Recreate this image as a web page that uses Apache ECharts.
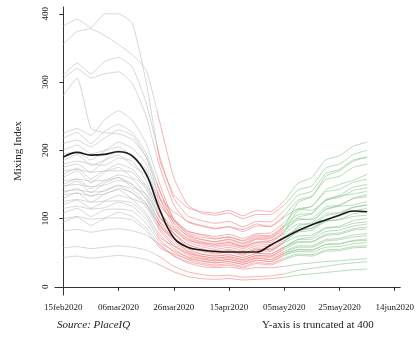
<!DOCTYPE html>
<html>
<head>
<meta charset="utf-8">
<script src="https://cdn.jsdelivr.net/npm/echarts@6/dist/echarts.min.js"></script>
<style>
  html, body { margin: 0; padding: 0; background: #fff; }
  #chart { width: 417px; height: 337px; }
</style>
</head>
<body>
<div id="chart"></div>
<script>
// days after 15feb2020, one reading every 5 days
var days = [0,5,10,15,20,25,30,35,40,45,50,55,60,65,70,75,80,85,90,95,100,105,110];
var tickDays = [0,20,40,60,80,100,120];
var tickLabels = ['15feb2020','06mar2020','26mar2020','15apr2020','05may2020','25may2020','14jun2020'];
var yTicks = [0,100,200,300,400];

// average mixing index (black line)
var meanIndex = [190,197,193,194,198,192,165,112,72,58,54,52,51,51,51,61,72,82,91,98,105,111,110];

// cities with the highest mixing before the lockdown
var topCities = [
    [382,392,380,400,400,386,300,185,135,116,110,108,112,104,112,110,126,152,160,186,192,206,212],
    [356,374,378,368,355,340,318,240,160,120,108,105,108,100,106,106,120,142,148,174,180,194,200],
    [310,328,312,330,336,322,270,190,130,104,97,93,96,88,96,95,112,134,140,166,172,186,190],
    [305,320,306,312,315,298,250,175,120,95,89,85,88,81,89,89,104,127,133,157,162,175,180],
    [280,306,232,226,224,216,190,140,100,81,77,74,77,71,78,79,94,114,118,139,143,153,158],
    [225,232,222,245,258,244,210,150,98,79,73,70,73,67,74,75,90,106,108,127,131,141,145],
    [218,226,210,228,238,226,196,140,92,75,69,66,69,63,70,71,84,98,100,117,120,129,132],
    [210,215,205,218,230,222,190,130,88,71,65,62,65,59,66,67,78,92,92,107,109,117,120]
];

// the bulk of the cities
var midCities = [
    [200,208,195,200,212,203,180,130,110,96,90,86,88,84,92,88,102,114,112,126,133,136,140],
    [195,197,186,199,205,190,168,118,98,82,76,71,73,68,76,74,88,100,98,113,118,120,125],
    [185,194,178,186,200,190,172,122,95,74,66,63,66,60,70,68,82,112,118,142,150,156,165],
    [180,184,180,178,189,184,155,108,86,70,62,58,61,56,63,62,74,84,86,96,98,103,105],
    [175,180,168,185,193,178,163,128,98,77,70,66,70,64,72,72,88,124,132,162,170,184,190],
    [170,172,168,170,180,172,148,102,78,62,55,50,53,48,55,54,65,74,76,86,87,93,95],
    [165,174,158,170,170,168,143,100,84,66,59,55,58,53,60,59,72,86,90,104,108,116,120],
    [160,170,152,168,175,160,148,112,78,58,52,48,51,46,53,52,66,89,94,114,119,130,135],
    [155,158,155,156,164,158,134,94,71,56,48,45,47,43,49,48,58,66,66,75,77,83,85],
    [150,158,144,155,160,150,130,95,79,62,56,52,55,50,57,56,68,80,83,96,99,107,110],
    [148,150,147,149,156,150,128,90,67,52,45,42,44,40,46,45,57,70,73,86,89,97,100],
    [145,155,138,152,160,146,136,102,83,68,64,60,63,58,65,65,80,102,107,128,134,146,150],
    [140,142,139,140,149,143,121,85,63,50,43,40,42,38,44,43,52,60,60,69,71,76,78],
    [138,144,132,142,148,137,123,88,70,53,48,45,47,43,49,48,59,69,70,81,83,89,92],
    [135,137,134,136,144,138,117,82,60,47,41,38,40,36,42,40,49,55,54,62,63,68,70],
    [130,138,124,136,142,129,120,90,72,58,53,50,53,48,55,54,66,82,86,99,104,111,115],
    [125,128,124,126,134,128,108,76,56,43,38,35,37,33,39,37,46,52,51,58,59,63,65],
    [120,127,115,125,126,123,104,72,60,49,45,42,44,40,46,45,55,65,66,77,79,85,88],
    [115,118,114,116,124,118,99,69,51,40,35,32,34,30,36,34,42,48,47,54,55,59,60],
    [108,115,103,113,114,111,93,65,53,44,41,38,40,36,42,40,50,58,58,67,69,73,75],
    [100,103,99,101,109,103,86,60,46,37,33,30,32,28,34,32,40,46,45,52,53,57,58],
    [95,102,90,100,101,98,82,57,48,41,38,35,37,33,39,37,47,54,54,62,63,67,68]
];

// cities with very low mixing throughout
var lowCities = [
    [82,84,80,83,85,82,76,62,45,35,30,28,29,26,28,28,30,33,35,37,38,40,41],
    [57,59,56,58,60,58,54,44,30,22,18,16,17,14,15,16,19,24,27,30,33,35,37],
    [43,45,42,44,46,44,40,32,22,15,12,11,12,10,11,12,14,17,19,21,23,25,26]
];

var allCities = topCities.concat(midCities, lowCities);

function toPoints(values) {
    var pts = [];
    for (var i = 0; i < values.length; i++) {
        pts.push([days[i], values[i]]);
    }
    return pts;
}

var series = [];
var cityIdx = [];
for (var i = 0; i < allCities.length; i++) {
    cityIdx.push(i);
    series.push({
        type: 'line',
        data: toPoints(allCities[i]),
        showSymbol: false,
        silent: true,
        smooth: 0.15,
        lineStyle: { width: 1, opacity: 0.6 },
        z: 2
    });
}
series.push({
    type: 'line',
    data: toPoints(meanIndex),
    showSymbol: false,
    smooth: 0.4,
    lineStyle: { width: 1.6, color: '#1a1a1a' },
    itemStyle: { color: '#1a1a1a' },
    z: 5
});

var serif = 'Liberation Serif';
var chart = echarts.init(document.getElementById('chart'));
var option = {
    animation: false,
    backgroundColor: '#fff',
    grid: { left: 55, right: 15, top: 7, bottom: 42 },
    visualMap: {
        type: 'piecewise',
        show: false,
        dimension: 0,
        seriesIndex: cityIdx,
        pieces: [
            { lt: 34, color: '#bcbcbc' },
            { gte: 34, lt: 80, color: '#f07f7f' },
            { gte: 80, color: '#86c486' }
        ]
    },
    xAxis: {
        type: 'value',
        min: -3,
        max: 122,
        splitLine: { show: false },
        axisLine: { lineStyle: { color: '#333', width: 1 } },
        axisTick: { length: 4, customValues: tickDays, lineStyle: { color: '#333' } },
        axisLabel: {
            customValues: tickDays,
            fontFamily: serif,
            fontSize: 9,
            color: '#222',
            margin: 8,
            formatter: function (v) {
                return tickLabels[tickDays.indexOf(v)];
            }
        }
    },
    yAxis: {
        type: 'value',
        min: -12,
        max: 410,
        name: 'Mixing Index',
        nameLocation: 'middle',
        nameGap: 31,
        nameTextStyle: { fontFamily: serif, fontSize: 11, color: '#222' },
        splitLine: { show: false },
        axisLine: { show: true, lineStyle: { color: '#333', width: 1 } },
        axisTick: { show: true, length: 4, customValues: yTicks, lineStyle: { color: '#333' } },
        axisLabel: {
            customValues: yTicks,
            rotate: 90,
            fontFamily: serif,
            fontSize: 9,
            color: '#222',
            margin: 5
        }
    },
    graphic: [
        {
            type: 'text', left: 57, top: 320,
            style: { text: 'Source: PlaceIQ', font: 'italic 11px "Liberation Serif"', fill: '#222' }
        },
        {
            type: 'text', left: 262, top: 320,
            style: { text: 'Y-axis is truncated at 400', font: '11px "Liberation Serif"', fill: '#222' }
        }
    ],
    series: series
};
chart.setOption(option);
</script>
</body>
</html>
